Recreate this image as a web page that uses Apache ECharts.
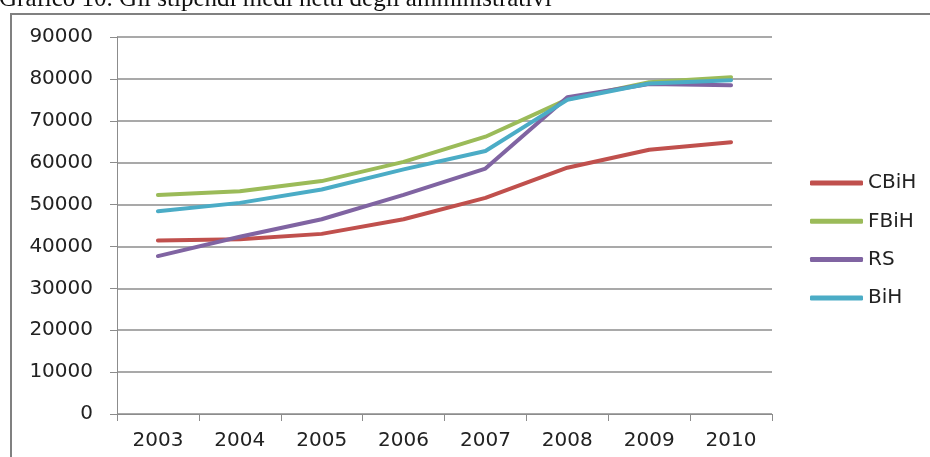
<!DOCTYPE html>
<html>
<head>
<meta charset="utf-8">
<script src="https://cdn.jsdelivr.net/npm/echarts@6/dist/echarts.min.js"></script>
<style>
html,body{margin:0;padding:0;background:#fff;}
#chart{width:930px;height:457px;}
</style>
</head>
<body>
<div id="chart"></div>
<script>
const categories = ['2003','2004','2005','2006','2007','2008','2009','2010'];
const seriesNames = ['CBiH','FBiH','RS','BiH'];
const cbih = [41400, 41700, 43000, 46500, 51600, 58800, 63100, 64900];
const fbih = [52300, 53200, 55600, 60200, 66200, 75100, 79200, 80400];
const rs   = [37700, 42300, 46500, 52300, 58600, 75600, 78800, 78500];
const bih  = [48400, 50400, 53600, 58400, 62800, 75000, 78900, 79700];
const yTicks = [0,10000,20000,30000,40000,50000,60000,70000,80000,90000];
const titleText = 'Grafico 10. Gli stipendi medi netti degli amministrativi';

const colors = ['#C0504D','#9BBB59','#8064A2','#4BACC6'];
const values = [cbih, fbih, rs, bih];

const chart = echarts.init(document.getElementById('chart'), null, {renderer:'canvas'});
const font = '"DejaVu Sans", sans-serif';
chart.setOption({
  animation: false,
  backgroundColor: '#fff',
  color: colors,
  grid: {left: 117, right: 158, top: 37, bottom: 43, containLabel: false},
  xAxis: {
    type: 'category',
    data: categories,
    boundaryGap: true,
    axisLine: {show: true, lineStyle: {color: '#8c8c8c', width: 1}},
    axisTick: {show: true, interval: 0, length: 7, lineStyle: {color: '#8c8c8c'}},
    axisLabel: {margin: 17, color: '#222', fontSize: 20, fontFamily: font},
    splitLine: {show: false}
  },
  yAxis: {
    type: 'value',
    min: yTicks[0],
    max: yTicks[yTicks.length-1],
    interval: yTicks[1]-yTicks[0],
    axisLine: {show: true, lineStyle: {color: '#8c8c8c', width: 1}},
    axisTick: {show: true, length: 7, lineStyle: {color: '#8c8c8c'}},
    axisLabel: {margin: 24, color: '#222', fontSize: 20, fontFamily: font, formatter: v => String(v)},
    splitLine: {show: true, lineStyle: {color: '#8c8c8c', width: 1.5}}
  },
  legend: {
    orient: 'vertical',
    left: 810,
    top: 173,
    padding: 0,
    itemWidth: 53,
    itemHeight: 5,
    itemGap: 18.3,
    icon: 'roundRect',
    textStyle: {color: '#222', fontSize: 20, fontFamily: font, padding: [0,0,0,0]},
    data: seriesNames
  },
  series: seriesNames.map((n, i) => ({
    name: n,
    type: 'line',
    data: values[i],
    symbol: 'none',
    smooth: false,
    lineStyle: {width: 4, color: colors[i], cap: 'round', join: 'round'},
    itemStyle: {color: colors[i]}
  })),
  graphic: [
    {type: 'rect', shape: {x: 11, y: 14, width: 940, height: 470}, style: {fill: 'none', stroke: '#808080', lineWidth: 2}, silent: true},
    {type: 'text', x: -1, y: -13, style: {text: titleText, font: '25px "Liberation Serif", "DejaVu Serif", serif', fill: '#111', verticalAlign: 'top'}}
  ]
});
</script>
</body>
</html>
